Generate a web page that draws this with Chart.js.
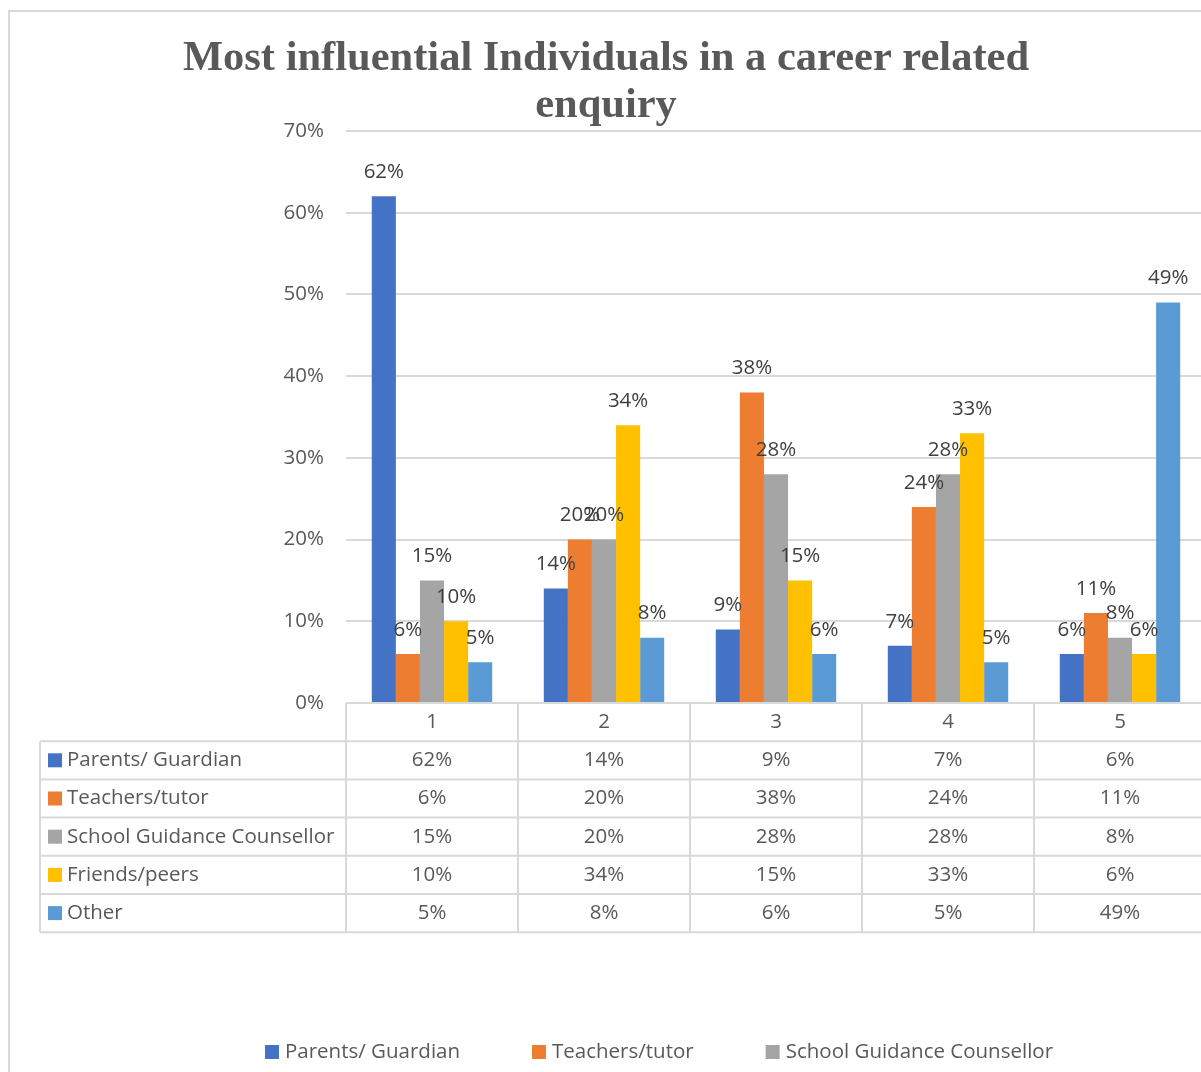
<!DOCTYPE html>
<html>
<head>
<meta charset="utf-8">
<title>Most influential Individuals in a career related enquiry</title>
<script src="https://cdn.jsdelivr.net/npm/chart.js@4/dist/chart.umd.min.js"></script>
<style>
  html, body { margin: 0; padding: 0; background: #fff; overflow: hidden; }
  #wrap { width: 1216px; height: 1072px; }
</style>
</head>
<body>
<div id="wrap"><canvas id="influenceChart" width="1216" height="1072"></canvas></div>
<script>
const categories = ["1", "2", "3", "4", "5"];
const seriesNames = ["Parents/ Guardian", "Teachers/tutor", "School Guidance Counsellor", "Friends/peers", "Other"];
const parents = [62, 14, 9, 7, 6];
const teachers = [6, 20, 38, 24, 11];
const counsellor = [15, 20, 28, 28, 8];
const friends = [10, 34, 15, 33, 6];
const other = [5, 8, 6, 5, 49];
const yTicks = [0, 10, 20, 30, 40, 50, 60, 70];
const titleLines = ["Most influential Individuals in a career related", "enquiry"];

const colors = ["#4472C4", "#ED7D31", "#A5A5A5", "#FFC000", "#5B9BD5"];
const allSeries = [parents, teachers, counsellor, friends, other];

const FONT = "'Open Sans', 'DejaVu Sans', sans-serif";
const FSIZE = 20.5;
const TEXT = "#595959";
const LINE = "#d9d9d9";

// outer frame and title
const frame = {
  id: "frame",
  beforeDraw(chart) {
    const ctx = chart.ctx;
    ctx.save();
    ctx.fillStyle = "#fff";
    ctx.fillRect(0, 0, chart.width, chart.height);
    ctx.strokeStyle = LINE;
    ctx.lineWidth = 2;
    ctx.strokeRect(9, 11, chart.width - 8, chart.height);
    ctx.fillStyle = TEXT;
    ctx.font = "bold 42.5px 'Liberation Serif', 'Times New Roman', serif";
    ctx.textAlign = "center";
    ctx.textBaseline = "alphabetic";
    ctx.fillText(titleLines[0], 606, 70);
    ctx.fillText(titleLines[1], 606, 117);
    ctx.restore();
  }
};

// value labels above each bar
const barLabels = {
  id: "barLabels",
  afterDatasetsDraw(chart) {
    const ctx = chart.ctx;
    ctx.save();
    ctx.font = FSIZE + "px " + FONT;
    ctx.fillStyle = "#404040";
    ctx.textAlign = "center";
    ctx.textBaseline = "middle";
    chart.data.datasets.forEach((ds, i) => {
      chart.getDatasetMeta(i).data.forEach((bar, j) => {
        ctx.fillText(ds.data[j] + "%", bar.x, bar.y - 24);
      });
    });
    ctx.restore();
  }
};

// data table under the plot, columns follow the category scale
const dataTable = {
  id: "dataTable",
  afterDraw(chart) {
    const ctx = chart.ctx;
    const x = chart.scales.x;
    const area = chart.chartArea;
    const top = area.bottom;
    const rowH = 38.2;
    const leftX = 40;
    const half = (x.getPixelForValue(1) - x.getPixelForValue(0)) / 2;
    const bottom = top + rowH * (seriesNames.length + 1);

    ctx.save();
    ctx.strokeStyle = LINE;
    ctx.lineWidth = 2;
    ctx.beginPath();
    ctx.moveTo(area.left, top);
    ctx.lineTo(chart.width, top);
    for (let r = 1; r <= seriesNames.length + 1; r++) {
      const y = top + rowH * r;
      ctx.moveTo(leftX, y);
      ctx.lineTo(chart.width, y);
    }
    ctx.moveTo(leftX, top + rowH);
    ctx.lineTo(leftX, bottom);
    ctx.moveTo(area.left, top);
    ctx.lineTo(area.left, bottom);
    categories.forEach((c, i) => {
      const edge = x.getPixelForValue(i) + half;
      ctx.moveTo(edge, top);
      ctx.lineTo(edge, bottom);
    });
    ctx.stroke();

    ctx.font = FSIZE + "px " + FONT;
    ctx.fillStyle = TEXT;
    ctx.textBaseline = "middle";
    ctx.textAlign = "center";
    categories.forEach((c, i) => {
      ctx.fillText(c, x.getPixelForValue(i), top + rowH / 2);
    });
    seriesNames.forEach((name, r) => {
      const cy = top + rowH * (r + 1.5);
      ctx.fillStyle = colors[r];
      ctx.fillRect(48, cy - 7, 14, 14);
      ctx.fillStyle = TEXT;
      ctx.textAlign = "left";
      ctx.fillText(name, 67, cy);
      ctx.textAlign = "center";
      allSeries[r].forEach((v, i) => {
        ctx.fillText(v + "%", x.getPixelForValue(i), cy);
      });
    });
    ctx.restore();
  }
};

// legend below the table, wrapping onto a second line
const bottomLegend = {
  id: "bottomLegend",
  afterDraw(chart) {
    const ctx = chart.ctx;
    ctx.save();
    ctx.font = FSIZE + "px " + FONT;
    ctx.textBaseline = "middle";
    ctx.textAlign = "left";
    const gap = 72;
    const widths = seriesNames.map(n => 20 + ctx.measureText(n).width);
    const lines = [[0, 1, 2], [3, 4]];
    const centerX = 659;
    lines.forEach((items, li) => {
      const total = items.reduce((s, k) => s + widths[k], 0) + gap * (items.length - 1);
      let px = centerX - total / 2;
      const cy = 1052 + li * 38;
      items.forEach(k => {
        ctx.fillStyle = colors[k];
        ctx.fillRect(px, cy - 7, 14, 14);
        ctx.fillStyle = TEXT;
        ctx.fillText(seriesNames[k], px + 20, cy);
        px += widths[k] + gap;
      });
    });
    ctx.restore();
  }
};

new Chart(document.getElementById("influenceChart"), {
  type: "bar",
  data: {
    labels: categories,
    datasets: seriesNames.map((name, i) => ({
      label: name,
      data: allSeries[i],
      backgroundColor: colors[i],
      categoryPercentage: 0.7,
      barPercentage: 1.0
    }))
  },
  options: {
    responsive: false,
    animation: false,
    layout: {
      padding: { top: 131, right: 10, bottom: 369, left: 0 }
    },
    plugins: {
      legend: { display: false },
      tooltip: { enabled: false },
      title: { display: false }
    },
    scales: {
      x: {
        display: false
      },
      y: {
        min: 0,
        max: 70,
        afterFit(scale) {
          scale.width = 346;
        },
        afterBuildTicks(scale) {
          scale.ticks = yTicks.map(v => ({ value: v }));
        },
        border: { display: false },
        grid: {
          color: LINE,
          lineWidth: 2,
          drawTicks: false
        },
        ticks: {
          padding: 22,
          color: TEXT,
          font: { family: FONT, size: FSIZE },
          callback: v => v + "%"
        }
      }
    }
  },
  plugins: [frame, barLabels, dataTable, bottomLegend]
});
</script>
</body>
</html>
